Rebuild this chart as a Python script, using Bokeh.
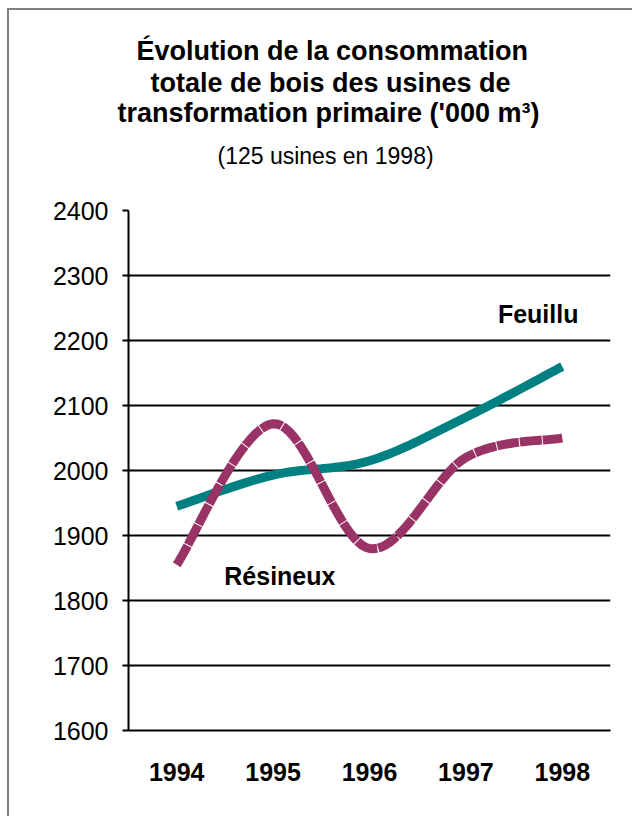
import numpy as np
from bokeh.plotting import figure
from bokeh.models import Range1d, FixedTicker, Label, Title
from bokeh.embed import file_html
from bokeh.resources import INLINE

# ---- data ----
years = ["1994", "1995", "1996", "1997", "1998"]
feuillu = [1945, 1993, 2015, 2082, 2160]
resineux = [1855, 2072, 1880, 2020, 2050]
y_ticks = [1600, 1700, 1800, 1900, 2000, 2100, 2200, 2300, 2400]

title_lines = ["Évolution de la consommation",
               "totale de bois des usines de",
               "transformation primaire ('000 m³)"]
subtitle = "(125 usines en 1998)"

FONT = "Liberation Sans"


def smooth(xs, ys, n=24):
    """Catmull-Rom rendering of a smoothed line through the given points."""
    xs = np.asarray(xs, float)
    ys = np.asarray(ys, float)
    px = np.concatenate([[xs[0]], xs, [xs[-1]]])
    py = np.concatenate([[ys[0]], ys, [ys[-1]]])
    ox, oy = [], []
    for i in range(1, len(px) - 2):
        t = np.linspace(0, 1, n, endpoint=(i == len(px) - 3))
        for arr, out in ((px, ox), (py, oy)):
            p0, p1, p2, p3 = arr[i - 1], arr[i], arr[i + 1], arr[i + 2]
            v = 0.5 * ((2 * p1) + (-p0 + p2) * t
                       + (2 * p0 - 5 * p1 + 4 * p2 - p3) * t ** 2
                       + (-p0 + 3 * p1 - 3 * p2 + p3) * t ** 3)
            out.extend(v.tolist())
    return ox, oy


xpos = list(range(1, len(years) + 1))

p = figure(width=625, height=808, output_backend="svg", toolbar_location=None,
           x_range=Range1d(0.5, len(years) + 0.5), y_range=Range1d(1600, 2400),
           min_border_left=119, min_border_right=24, min_border_top=200,
           min_border_bottom=88)
p.styles = {"border-top": "2px solid #808080", "border-left": "2px solid #808080",
            "margin-left": "7px", "margin-top": "8px"}
p.outline_line_color = None
p.background_fill_color = "white"
p.border_fill_color = "white"

# axes
p.yaxis.ticker = FixedTicker(ticks=y_ticks)
p.yaxis.axis_line_color = "black"
p.yaxis.axis_line_width = 2
p.yaxis.major_tick_line_color = "black"
p.yaxis.major_tick_line_width = 2
p.yaxis.major_tick_out = 6
p.yaxis.major_tick_in = 0
p.yaxis.minor_tick_line_color = None
p.yaxis.major_label_text_font = FONT
p.yaxis.major_label_text_font_size = "25px"
p.yaxis.major_label_text_color = "black"
p.yaxis.major_label_standoff = 14

p.xaxis.ticker = FixedTicker(ticks=xpos)
p.xaxis.major_label_overrides = {x: y for x, y in zip(xpos, years)}
p.xaxis.axis_line_color = "black"
p.xaxis.axis_line_width = 2
p.xaxis.major_tick_line_color = None
p.xaxis.minor_tick_line_color = None
p.xaxis.major_label_text_font = FONT
p.xaxis.major_label_text_font_size = "25px"
p.xaxis.major_label_text_font_style = "bold"
p.xaxis.major_label_text_color = "black"
p.xaxis.major_label_standoff = 26

p.xgrid.grid_line_color = None
p.ygrid.grid_line_color = "black"
p.ygrid.grid_line_width = 2

# series
fx, fy = smooth(xpos, feuillu)
rx, ry = smooth(xpos, resineux)
p.line(fx, fy, line_color="#008080", line_width=9)
p.line(rx, ry, line_color="#993366", line_width=9, line_dash="22 1")

# series labels
p.add_layout(Label(x=4.75, y=2241, text="Feuillu", text_font=FONT,
                   text_font_size="25px", text_font_style="bold",
                   text_align="center", text_baseline="middle", text_color="black"))
p.add_layout(Label(x=2.07, y=1838, text="Résineux", text_font=FONT,
                   text_font_size="25px", text_font_style="bold",
                   text_align="center", text_baseline="middle", text_color="black"))

# titles: stacked above the frame (last added is topmost)
p.add_layout(Title(text=" ", text_font=FONT, text_font_size="10px",
                   align="left", offset=0, standoff=15), "above")  # spacer
p.add_layout(Title(text=subtitle, text_font=FONT, text_font_size="23px",
                   text_font_style="normal", text_color="black",
                   align="left", offset=89, standoff=27), "above")
for txt, off, so in zip(reversed(title_lines), [-11, 22, 8], [0, -4, 3]):
    p.add_layout(Title(text=txt, text_font=FONT, text_font_size="27px",
                       text_font_style="bold", text_color="black",
                       align="left", offset=off, standoff=so), "above")

open("out.html", "w").write(file_html(p, INLINE))
